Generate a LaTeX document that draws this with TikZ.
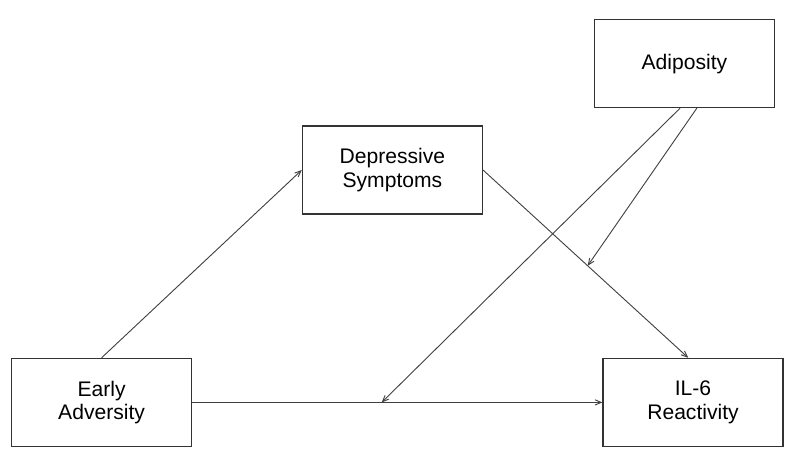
\documentclass[tikz,border=0pt]{standalone}
\usepackage{fontspec}
\setmainfont{Liberation Sans}
\usetikzlibrary{calc}
\usetikzlibrary{arrows}

\tikzset{box/.style={draw=black!80,line width=0.9pt,fill=white,minimum width=4.5cm,minimum height=2.2cm,align=center,inner sep=2pt,font=\fontsize{15}{16.5}\selectfont},
         path/.style={->,>=angle 45,draw=black!75,line width=0.65pt}}

\begin{document}
\begin{tikzpicture}
\useasboundingbox (0,0) rectangle (20,-11.575);
%variables
\node [box] (adip) at (17.11,-1.59) {Adiposity};
\node [box] (dep) at (9.81,-4.25) {Depressive\\Symptoms};
\node [box] (early) at (2.54,-10.06) {Early\\Adversity};
\node [box] (il) at (17.325,-10.06) {IL-6\\Reactivity};
%paths
\draw [path] (early.north) -- (dep.west);
\draw [path] (dep.east) -- ([xshift=-0.12cm]il.north);
\draw [path] (early.east) -- (il.west);
%moderation
\coordinate (m1) at ($(early.east)!0.462!(il.west)$);
\coordinate (m2) at ($(dep.east)!0.51!([xshift=-0.12cm]il.north)$);
\draw [path] ([xshift=-0.11cm]adip.south) -- (m1);
\draw [path] ([xshift=0.31cm]adip.south) -- (m2);
\end{tikzpicture}
\end{document}
